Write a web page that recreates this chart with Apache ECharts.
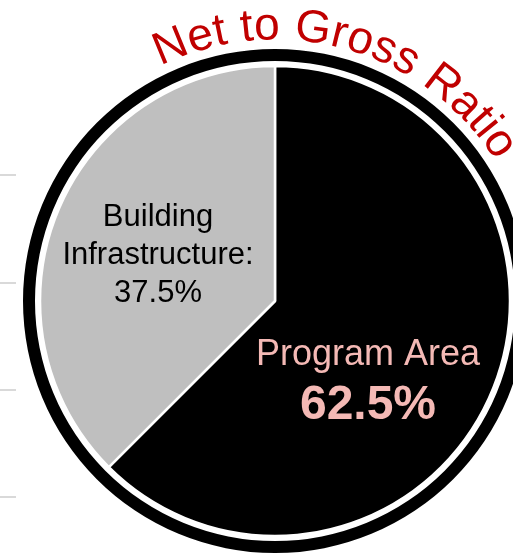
<!DOCTYPE html>
<html>
<head>
<meta charset="utf-8">
<script src="https://cdn.jsdelivr.net/npm/echarts@6/dist/echarts.min.js"></script>
<style>
html,body{margin:0;padding:0;background:#fff;}
#chart{width:513px;height:555px;}
</style>
</head>
<body>
<div id="chart"></div>
<script>
const categories = ['Program Area', 'Building Infrastructure'];
const values = [62.5, 37.5];
const sliceColors = ['#000000', '#bfbfbf'];
const titleText = 'Net to Gross Ratio';
const gridLineYs = [175, 283, 390, 497];

const cx = 275, cy = 301;
const FONT = '"Liberation Sans", Arial, sans-serif';

const chart = echarts.init(document.getElementById('chart'), null, {renderer: 'canvas'});

// curved title
const titleSize = 46;
const R = 259;
const ctx = document.createElement('canvas').getContext('2d');
ctx.font = titleSize + 'px ' + FONT;
const startDeg = -26;
let acc = 0;
const titleEls = [];
for (const ch of titleText) {
  const w = ctx.measureText(ch).width;
  const th = (startDeg * Math.PI / 180) + (acc + w / 2) / R;
  acc += w;
  if (ch === ' ') continue;
  titleEls.push({
    type: 'text',
    x: cx + R * Math.sin(th),
    y: cy - R * Math.cos(th),
    rotation: -th,
    silent: true, z: 100,
    style: {
      text: ch, x: 0, y: -0.33 * titleSize,
      font: titleSize + 'px ' + FONT,
      fill: '#c00000', align: 'center', verticalAlign: 'middle'
    }
  });
}

const lineEls = gridLineYs.map(y => ({
  type: 'line', silent: true, z: 100,
  shape: {x1: 0, y1: y, x2: 16, y2: y},
  style: {stroke: '#d9d9d9', lineWidth: 2}
}));

const labelEls = [
  {
    type: 'text', silent: true, z: 100, x: 158, y: 255,
    style: {
      text: 'Building\nInfrastructure:\n' + values[1].toFixed(1) + '%',
      font: '31px ' + FONT, lineHeight: 38,
      fill: '#000000', align: 'center', verticalAlign: 'middle'
    }
  },
  {
    type: 'text', silent: true, z: 100, x: 368, y: 355,
    style: {
      text: categories[0], font: '36px ' + FONT,
      fill: '#f4b9b5', align: 'center', verticalAlign: 'middle'
    }
  },
  {
    type: 'text', silent: true, z: 100, x: 368, y: 406,
    style: {
      text: values[0].toFixed(1) + '%', font: 'bold 48px ' + FONT,
      fill: '#f4b9b5', align: 'center', verticalAlign: 'middle'
    }
  }
];

chart.setOption({
  animation: false,
  backgroundColor: '#ffffff',
  series: [{
    type: 'pie',
    center: [cx, cy],
    radius: [0, 235],
    startAngle: 90,
    clockwise: true,
    silent: true,
    z: 1,
    label: {show: false},
    labelLine: {show: false},
    itemStyle: {borderColor: '#ffffff', borderWidth: 2.5},
    data: categories.map((c, i) => ({name: c, value: values[i], itemStyle: {color: sliceColors[i]}}))
  }],
  graphic: [
    {type: 'ring', silent: true, z: 0, shape: {cx: cx, cy: cy, r: 252, r0: 240}, style: {fill: '#000000'}},
    ...lineEls,
    ...labelEls,
    ...titleEls
  ]
});
</script>
</body>
</html>
